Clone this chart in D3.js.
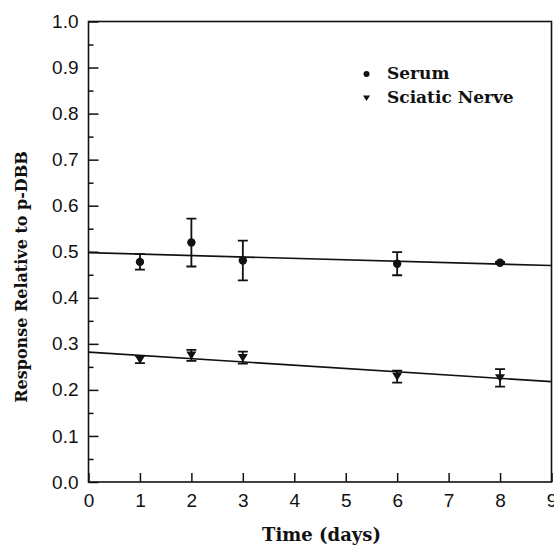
<!DOCTYPE html>
<html>
<head>
<meta charset="utf-8">
<script src="https://cdn.jsdelivr.net/npm/d3@7"></script>
<style>
  body { margin: 0; background: #fff; }
  .tick text { font-family: 'Liberation Sans', Arial, sans-serif; font-size: 19px; fill: #111; }
  .ttl { font-family: 'DejaVu Serif', serif; font-weight: bold; fill: #111; }
</style>
</head>
<body>
<div id="chart"></div>
<script>
// values
const days = [1, 2, 3, 6, 8];
const serumMean = [0.478, 0.520, 0.481, 0.474, 0.476];
const serumErr = [0.017, 0.052, 0.043, 0.025, 0.002];
const sciaticMean = [0.266, 0.275, 0.270, 0.229, 0.226];
const sciaticErr = [0.008, 0.012, 0.013, 0.013, 0.019];
// fitted lines, value at day 0 and day 9
const fitDays = [0, 9];
const serumFit = [0.498, 0.470];
const sciaticFit = [0.282, 0.218];
const xTicks = [0, 1, 2, 3, 4, 5, 6, 7, 8, 9];
const yTicks = [0, 0.1, 0.2, 0.3, 0.4, 0.5, 0.6, 0.7, 0.8, 0.9, 1.0];
const yMinorTicks = [0.05, 0.15, 0.25, 0.35, 0.45, 0.55, 0.65, 0.75, 0.85, 0.95];

const width = 554, height = 548;
const ink = '#111';

const svg = d3.select('#chart')
    .append('svg')
        .attr('width', width)
        .attr('height', height);

const x = d3.scaleLinear().domain([0, 9]).range([88.5, 551.5]);
const y = d3.scaleLinear().domain([0, 1]).range([482, 21.5]);

// y axis, major + minor ticks pointing inward
svg.append('g')
    .attr('transform', 'translate(' + x(0) + ',0)')
    .call(d3.axisLeft(y).tickValues(yTicks).tickSize(-10).tickPadding(10)
        .tickFormat(d3.format('.1f')))
    .call(g => g.select('.domain').remove())
    .call(g => g.selectAll('.tick line').attr('stroke', ink).attr('stroke-width', 1.5));

svg.append('g')
    .attr('transform', 'translate(' + x(0) + ',0)')
    .call(d3.axisLeft(y).tickValues(yMinorTicks).tickSize(-5).tickFormat(''))
    .call(g => g.select('.domain').remove())
    .call(g => g.selectAll('.tick line').attr('stroke', ink).attr('stroke-width', 1.5));

// x axis
svg.append('g')
    .attr('transform', 'translate(0,' + y(0) + ')')
    .call(d3.axisBottom(x).tickValues(xTicks).tickSize(-9).tickPadding(12)
        .tickFormat(d3.format('d')))
    .call(g => g.select('.domain').remove())
    .call(g => g.selectAll('.tick line').attr('stroke', ink).attr('stroke-width', 1.5));

// frame
svg.append('rect')
    .attr('x', x(0))
    .attr('y', y(1))
    .attr('width', x(9) - x(0))
    .attr('height', y(0) - y(1))
    .attr('fill', 'none')
    .attr('stroke', ink)
    .attr('stroke-width', 1.6);

// fitted lines
const line = d3.line().x(d => x(d[0])).y(d => y(d[1]));
[serumFit, sciaticFit].forEach(fit => {
    svg.append('path')
        .attr('d', line(fitDays.map((d, i) => [d, fit[i]])))
        .attr('fill', 'none')
        .attr('stroke', ink)
        .attr('stroke-width', 1.6);
});

// error bars
function errorBars (means, errs) {
    const g = svg.append('g')
        .attr('stroke', ink)
        .attr('stroke-width', 1.8)
        .attr('fill', 'none');
    days.forEach((d, i) => {
        const cx = x(d), hi = y(means[i] + errs[i]), lo = y(means[i] - errs[i]);
        g.append('path')
            .attr('d', 'M' + cx + ',' + hi + 'L' + cx + ',' + lo +
                'M' + (cx - 5) + ',' + hi + 'L' + (cx + 5) + ',' + hi +
                'M' + (cx - 5) + ',' + lo + 'L' + (cx + 5) + ',' + lo);
    });
}
errorBars(serumMean, serumErr);
errorBars(sciaticMean, sciaticErr);

const tri = s => 'M' + (-s) + ',' + (-s * 0.75) + 'L' + s + ',' + (-s * 0.75) + 'L0,' + (s * 0.85) + 'Z';

svg.append('g')
    .selectAll('circle')
    .data(days)
    .enter()
    .append('circle')
        .attr('cx', d => x(d))
        .attr('cy', (d, i) => y(serumMean[i]))
        .attr('r', 4.2)
        .attr('fill', ink);

svg.append('g')
    .selectAll('path')
    .data(days)
    .enter()
    .append('path')
        .attr('transform', (d, i) => 'translate(' + x(d) + ',' + y(sciaticMean[i]) + ')')
        .attr('d', tri(5))
        .attr('fill', ink);

// legend
const legend = svg.append('g');
legend.append('circle')
    .attr('cx', 366.5).attr('cy', 74).attr('r', 3).attr('fill', ink);
legend.append('path')
    .attr('transform', 'translate(366.5,98)')
    .attr('d', tri(3.5))
    .attr('fill', ink);
legend.append('text')
    .attr('class', 'ttl')
    .attr('x', 387).attr('y', 79)
    .style('font-size', '17px')
    .text('Serum');
legend.append('text')
    .attr('class', 'ttl')
    .attr('x', 387).attr('y', 103)
    .style('font-size', '17px')
    .text('Sciatic Nerve');

// axis titles
svg.append('text')
    .attr('class', 'ttl')
    .attr('x', 321.5).attr('y', 541)
    .attr('text-anchor', 'middle')
    .style('font-size', '18px')
    .text('Time (days)');

svg.append('text')
    .attr('class', 'ttl')
    .attr('transform', 'translate(27,277) rotate(-90)')
    .attr('text-anchor', 'middle')
    .style('font-size', '16px')
    .text('Response Relative to p-DBB');
</script>
</body>
</html>
